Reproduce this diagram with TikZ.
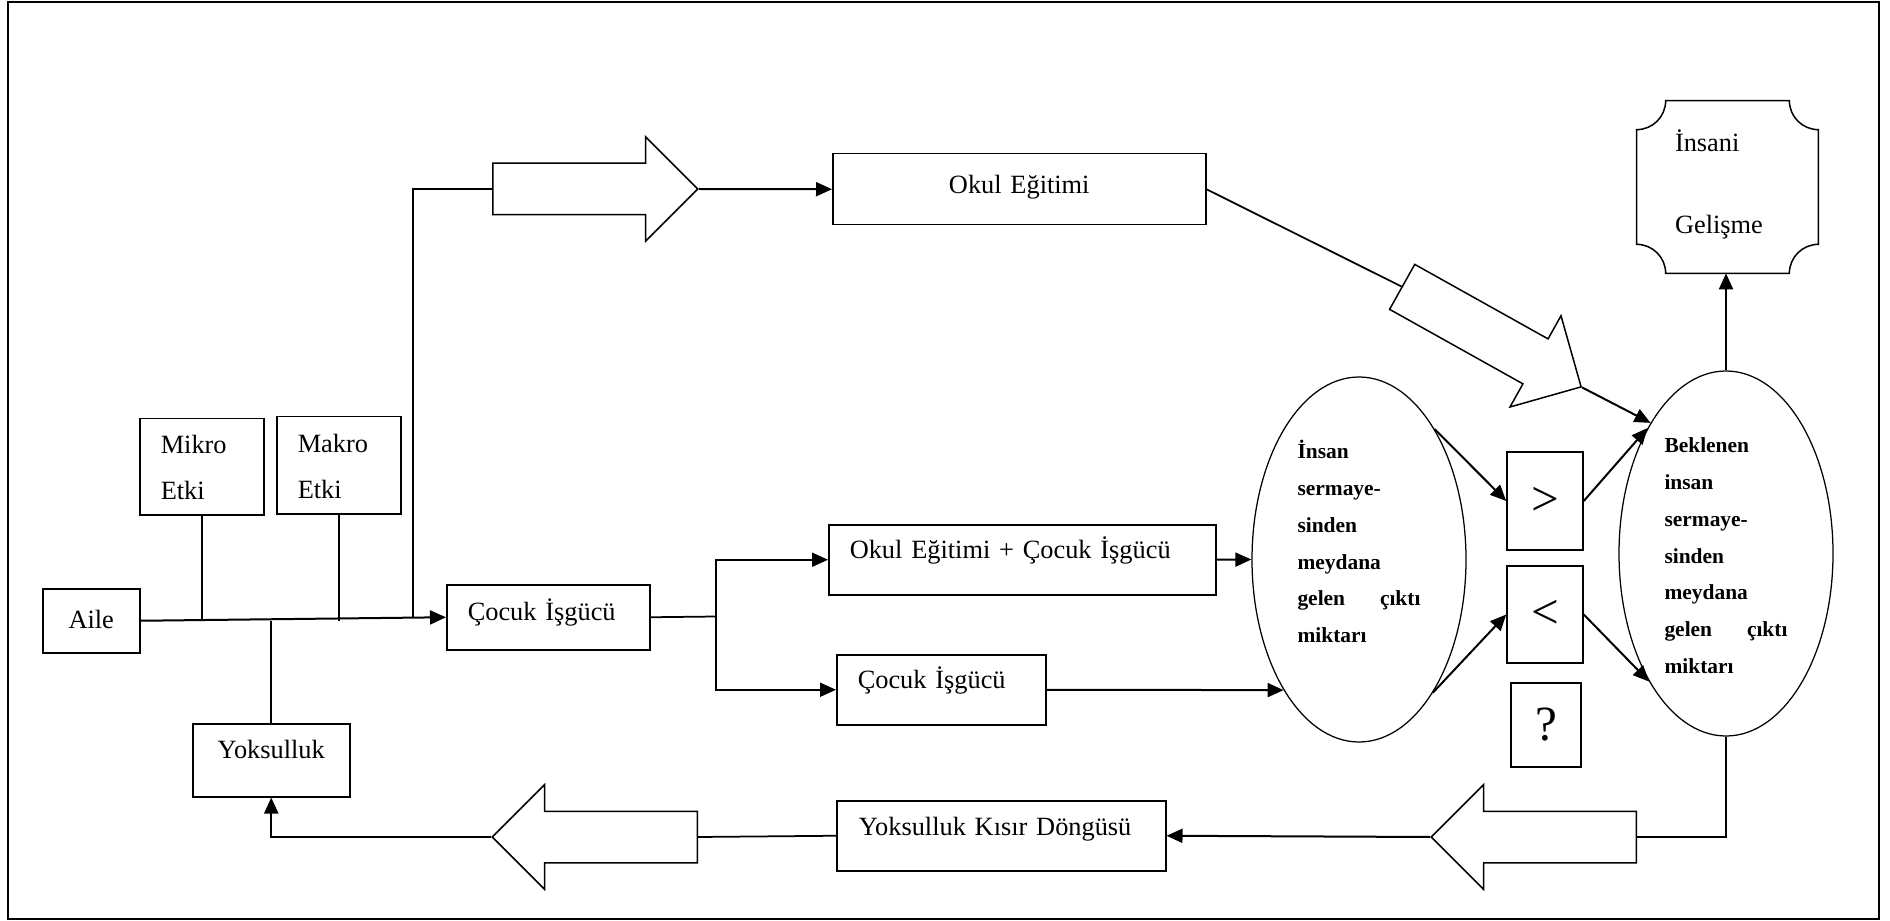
\documentclass[tikz,border=0pt]{standalone}
\usepackage{fontspec}
\setmainfont{Liberation Serif}
\usetikzlibrary{shapes,arrows.meta}

\begin{document}
\begin{tikzpicture}[x=0.2mm, y=-0.2mm,
    font=\fontsize{15pt}{18pt}\selectfont,
    kutu/.style n args={4}{draw, line width=.3mm, align=left, inner ysep=0pt,
      inner xsep=#1, text width=#2, text height=#3, text depth=#4, anchor=north west},
    isaret/.style={draw, line width=.3mm, inner sep=0pt, font=\fontsize{28pt}{30pt}\selectfont},
    elips/.style={ellipse, draw, line width=.25mm, inner sep=0pt,
      minimum width=42.8mm, minimum height=73mm,
      align=left, text width=24.6mm, text height=4mm, text depth=44.2mm,
      font=\bfseries\fontsize{12.2pt}{7.34mm}\selectfont},
    blok/.style={single arrow, draw, line width=.3mm, inner xsep=0pt, inner ysep=5mm,
      single arrow head extend=5.3mm, single arrow tip angle=90,
      minimum height=41mm, anchor=tail},
    ok/.style={-{Triangle[length=3.2mm,width=2.8mm]}, line width=.4mm},
    cizgi/.style={line width=.35mm}]
  \useasboundingbox (0,0) rectangle (1890,921);
  \draw[line width=.5mm] (8,2) rectangle (1879,919);

  \node[kutu={4.4mm}{10.6mm}{8mm}{4.8mm}, align=center] (aile) at (42,588) {Aile};
  \node[kutu={4.2mm}{16.4mm}{7mm}{12.2mm}, font=\fontsize{15pt}{9.2mm}\selectfont] (mikro) at (139,418) {Mikro\\Etki};
  \node[kutu={4.2mm}{16.4mm}{7.2mm}{12.2mm}, font=\fontsize{15pt}{9.2mm}\selectfont] (makro) at (276,416) {Makro\\Etki};
  \node[kutu={2mm}{27.4mm}{7mm}{7.6mm}, align=center] (yoks) at (192,723) {Yoksulluk};
  \node[kutu={4.2mm}{32.2mm}{7.2mm}{5.8mm}] (cocuk) at (446,584) {Çocuk İşgücü};
  \node[kutu={4mm}{66.6mm}{8mm}{6.2mm}, align=center] (okul) at (832,153) {Okul Eğitimi};
  \node[kutu={4.2mm}{69mm}{6.8mm}{7.2mm}] (karma) at (828,524) {Okul Eğitimi + Çocuk İşgücü};
  \node[kutu={4.2mm}{33.4mm}{6.8mm}{7.2mm}] (cocuk2) at (836,654) {Çocuk İşgücü};
  \node[kutu={4.4mm}{57mm}{7mm}{7mm}] (dongu) at (836,800) {Yoksulluk Kısır Döngüsü};

  \node[elips] (cikti) at (1359,559.5) {İnsan\\ sermaye-\\ sinden\\ meydana\\ gelen\hfill çıktı\\ miktarı};
  \node[elips] (beklenen) at (1726,553.5) {Beklenen\\ insan\\ sermaye-\\ sinden\\ meydana\\ gelen\hfill çıktı\\ miktarı};

  \node[isaret, minimum width=15.2mm, minimum height=19.6mm] (buyuk) at (1545,501) {>};
  \node[isaret, minimum width=15.2mm, minimum height=19.4mm] (kucuk) at (1545,614.5) {<};
  \node[isaret, minimum width=14mm, minimum height=16.8mm] (soru) at (1546,725) {?};

  \node[minimum width=36.2mm, minimum height=34.4mm, inner sep=0pt, text width=21mm, align=left,
    text height=3mm, text depth=17mm, font=\fontsize{15pt}{16.4mm}\selectfont] (insani) at (1727.5,187) {İnsani\\Gelişme};
  \draw[line width=.3mm] ([xshift=5.8mm]insani.north west) -- ([xshift=-5.8mm]insani.north east)
    arc[start angle=180, end angle=270, radius=5.8mm] -- ([yshift=5.8mm]insani.south east)
    arc[start angle=90, end angle=180, radius=5.8mm] -- ([xshift=5.8mm]insani.south west)
    arc[start angle=0, end angle=90, radius=5.8mm] -- ([yshift=-5.8mm]insani.north west)
    arc[start angle=270, end angle=360, radius=5.8mm] -- cycle;

  \node[blok] (ustok) at (492,189) {};
  \node[blok, rotate=-29.2] (egik) at (1401.5,286.5) {};
  \node[blok, rotate=180] (sagok) at (1637,837) {};
  \node[blok, rotate=180] (solok) at (698,837) {};

  \draw[ok] (aile.east) -- (cocuk.west);
  \draw[cizgi] (mikro.south) -- (mikro.south |- aile.east);
  \draw[cizgi] (makro.south) -- (makro.south |- aile.east);
  \draw[cizgi] (yoks.north) -- (yoks.north |- aile.east);
  \coordinate (dal) at (413,618);
  \draw[cizgi] (dal) |- (ustok.tail);
  \draw[ok] (ustok.tip) -- (okul.west);
  \coordinate (catal) at (716,616.5);
  \draw[cizgi] (cocuk.east) -- (catal);
  \draw[ok] (catal) |- (karma.west);
  \draw[ok] (catal) |- (cocuk2.west);
  \draw[ok] (karma.east) -- (cikti.west);
  \draw[ok] (cocuk2.east) -- (cikti.240);
  \draw[ok] (cikti.60) -- (buyuk.west);
  \draw[ok] (cikti.-61) -- (kucuk.west);
  \draw[ok] (buyuk.east) -- (beklenen.122);
  \draw[ok] (kucuk.east) -- (beklenen.239);
  \draw[cizgi] (okul.east) -- (egik.tail);
  \draw[ok] (egik.tip) -- (beklenen.120);
  \draw[ok] (beklenen.north) -- (beklenen.north |- insani.south);
  \draw[cizgi] (beklenen.south) |- (sagok.tail);
  \draw[ok] (sagok.tip) -- (dongu.east);
  \draw[cizgi] (dongu.west) -- (solok.tail);
  \draw[ok] (solok.tip) -| (yoks.south);
\end{tikzpicture}
\end{document}
